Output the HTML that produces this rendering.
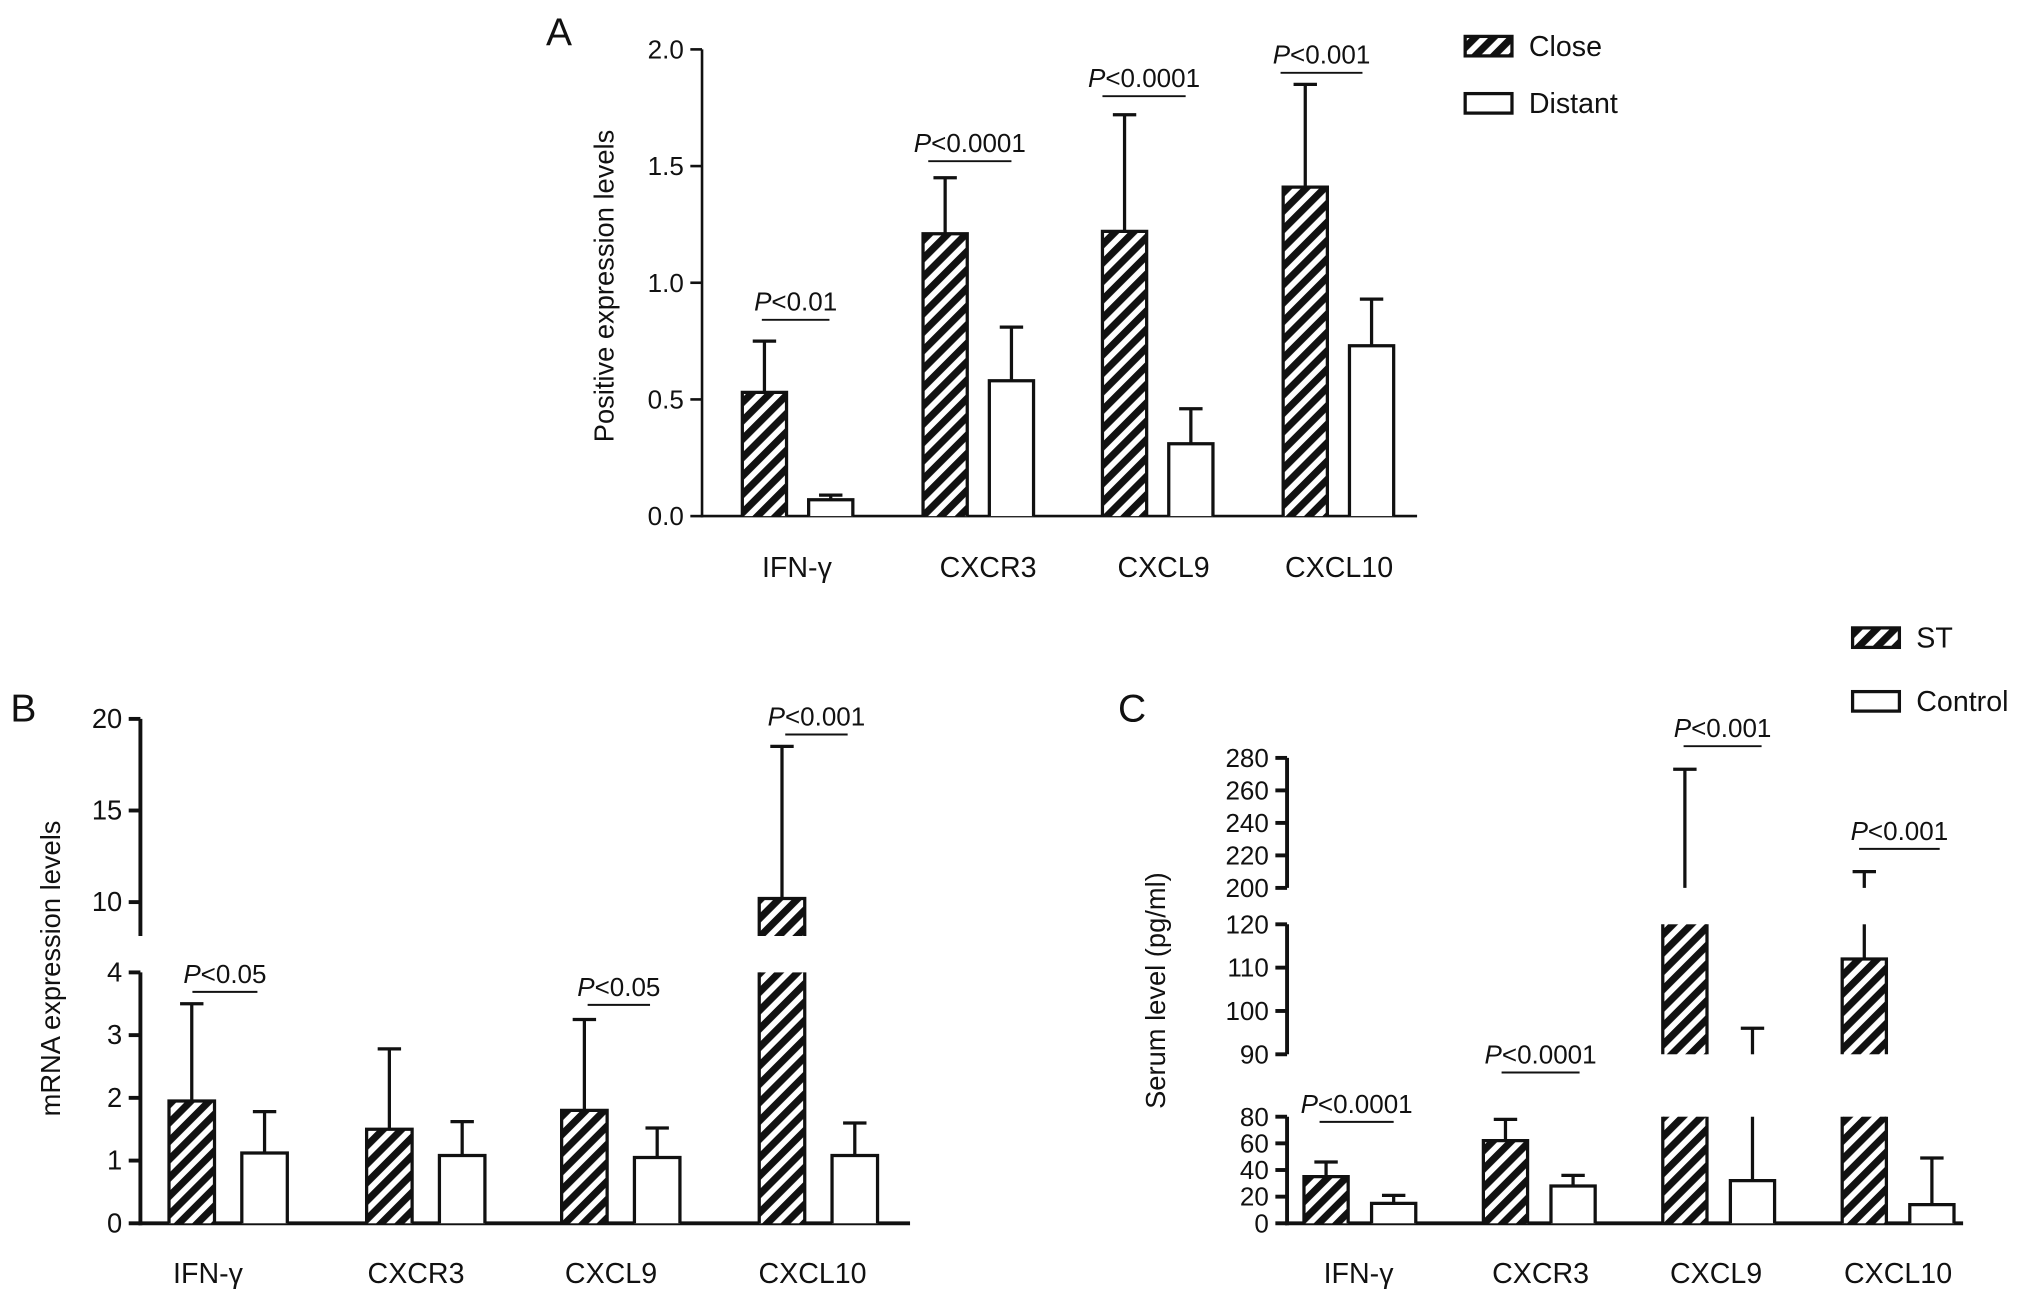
<!DOCTYPE html>
<html><head><meta charset="utf-8"><style>
html,body{margin:0;padding:0;background:#fff}
svg{display:block}
text{font-family:"Liberation Sans",sans-serif;fill:#111}
</style></head><body>
<svg id="chart" width="2032" height="1300" viewBox="0 0 1563 1000" preserveAspectRatio="none" xmlns="http://www.w3.org/2000/svg">
<defs>
<pattern id="hatch" patternUnits="userSpaceOnUse" width="10" height="10" patternTransform="rotate(45)">
<rect width="10" height="10" fill="#fff"/><rect width="5.5" height="10" fill="#111"/>
</pattern>
</defs>
<g id="root"></g>
</svg>
<script>
// Panel A data
const aCats=["IFN-γ","CXCR3","CXCL9","CXCL10"];
const aClose=[0.53,1.21,1.22,1.41];
const aCloseErr=[0.75,1.45,1.72,1.85];
const aDist=[0.07,0.58,0.31,0.73];
const aDistErr=[0.09,0.81,0.46,0.93];
const aTicks=[0,0.5,1.0,1.5,2.0];
const aP=["<0.01","<0.0001","<0.0001","<0.001"];
// Panel B data
const bCats=["IFN-γ","CXCR3","CXCL9","CXCL10"];
const bST=[1.95,1.5,1.8,10.2];
const bSTErr=[3.5,2.78,3.25,18.5];
const bCtrl=[1.12,1.08,1.05,1.08];
const bCtrlErr=[1.78,1.62,1.52,1.6];
const bTicks=[0,1,2,3,4,10,15,20];
const bP=["<0.05",null,"<0.05","<0.001"];
// Panel C data
const cCats=["IFN-γ","CXCR3","CXCL9","CXCL10"];
const cST=[35,62,130,112];
const cSTErr=[46,78,273,210];
const cCtrl=[15,28,32,14];
const cCtrlErr=[21,36,96,49];
const cTicks=[0,20,40,60,80,90,100,110,120,200,220,240,260,280];
const cP=["<0.0001","<0.0001","<0.001","<0.001"];

const NS="http://www.w3.org/2000/svg";
const root=document.getElementById('root');
function el(tag,attrs,parent,txt){const e=document.createElementNS(NS,tag);for(const k in attrs)e.setAttribute(k,attrs[k]);if(txt!==undefined)e.textContent=txt;(parent||root).appendChild(e);return e;}

function mkScale(segs){
  return function(v){for(const s of segs){if(v>=s.d0-1e-9&&v<=s.d1+1e-9)return s.p0+(v-s.d0)/(s.d1-s.d0)*(s.p1-s.p0);}return null;};
}
function spans(segs,a,b){const out=[];for(const s of segs){const lo=Math.max(a,s.d0),hi=Math.min(b,s.d1);if(hi>lo){const y0=s.p0+(lo-s.d0)/(s.d1-s.d0)*(s.p1-s.p0);const y1=s.p0+(hi-s.d0)/(s.d1-s.d0)*(s.p1-s.p0);out.push([y1,y0,hi>=b-1e-9]);}}return out;}

function panel(o){
  const g=el('g',{});
  
  
  const segs=o.segs, y=mkScale(segs), sw=o.sw;
  for(const s of segs){const a=el('line',{x1:o.x0,x2:o.x0,y1:s.p0+(s===segs[0]?sw/2:0),y2:s.p1,stroke:'#111','stroke-width':sw},g);
    
    }
  const xa=el('line',{x1:o.x0-sw/2,x2:o.x1,y1:segs[0].p0,y2:segs[0].p0,stroke:'#111','stroke-width':sw},g);
  
  
  o.ticks.forEach(t=>{const py=y(t);
    el('line',{x1:o.x0-9,x2:o.x0,y1:py,y2:py,stroke:'#111','stroke-width':sw},g);
    const tl=el('text',{x:o.x0-14,y:py+7,'text-anchor':'end','font-size':o.tfs},g,o.fmt(t));
    
    });
  o.cats.forEach((c,i)=>{
    const xs=[o.barX[i],o.barX[i]+o.gap];
    [[o.s1[0],o.s1[1],'url(#hatch)'],[o.s2[0],o.s2[1],'#fff']].forEach((ser,j)=>{
      const v=ser[0][i],e=ser[1][i],bx=xs[j];
      spans(segs,0,v).forEach(sp=>{
        const r=el('rect',{x:bx,y:sp[0],width:o.bw,height:sp[1]-sp[0],fill:ser[2],stroke:'none'},g);
        
        
        const pts=sp[2]?`${bx},${sp[1]} ${bx},${sp[0]} ${bx+o.bw},${sp[0]} ${bx+o.bw},${sp[1]}`:null;
        if(pts) el('polyline',{points:pts,fill:'none',stroke:'#111','stroke-width':2.5},g);
        else {el('line',{x1:bx,x2:bx,y1:sp[0],y2:sp[1],stroke:'#111','stroke-width':2.5},g);
              el('line',{x1:bx+o.bw,x2:bx+o.bw,y1:sp[0],y2:sp[1],stroke:'#111','stroke-width':2.5},g);}
      });
      const cx=bx+o.bw/2;
      spans(segs,v,e).forEach(sp=>{el('line',{x1:cx,x2:cx,y1:sp[0],y2:sp[1],stroke:'#111','stroke-width':2.5},g);});
      const ye=y(e);
      if(ye!==null){const cap=el('line',{x1:cx-9,x2:cx+9,y1:ye,y2:ye,stroke:'#111','stroke-width':2.5},g);
      
      }
    });
    const xl=el('text',{x:o.labX[i],y:o.labY,'text-anchor':'middle','font-size':22},g,c);
    
    
    if(o.p[i]){const L=o.pl[i];
      el('line',{x1:L[0],x2:L[1],y1:L[2],y2:L[2],stroke:'#111','stroke-width':1.5},g);
      const pt=el('text',{x:(L[0]+L[1])/2,y:L[2]-7,'text-anchor':'middle','font-size':20},g);
      
      
      el('tspan',{'font-style':'italic'},pt,'P');el('tspan',{},pt,o.p[i]);}
  });
  const yl=el('text',{x:0,y:0,'text-anchor':'middle','font-size':21,transform:`translate(${o.ylx},${o.yly}) rotate(-90)`},g,o.ylabel);
  
  
  const pl=el('text',{x:o.letter[0],y:o.letter[1],'font-size':30},g,o.letter[2]);
  
  
}

panel({name:'panel-a',x0:540,x1:1090,sw:2,tfs:20,segs:[{d0:0,d1:2,p0:397,p1:38}],ticks:aTicks,fmt:t=>t.toFixed(1),
  cats:aCats,s1:[aClose,aCloseErr],s2:[aDist,aDistErr],barX:[571,710,848,987],gap:51,bw:34,
  labX:[613,760,895,1030],labY:444,p:aP,pl:[[586,638,246],[714,778,124],[848,912,74],[985,1048,56]],
  ylabel:'Positive expression levels',ylx:472,yly:220,letter:[420,35,'A']});
panel({name:'panel-b',x0:108,x1:700,sw:3,tfs:21,segs:[{d0:0,d1:4,p0:941,p1:748},{d0:8.15,d1:20,p0:720,p1:553}],ticks:bTicks,fmt:t=>String(t),
  cats:bCats,s1:[bST,bSTErr],s2:[bCtrl,bCtrlErr],barX:[130,282,432,584],gap:56,bw:35,
  labX:[160,320,470,625],labY:987,p:bP,pl:[[148,198,763],null,[452,500,773],[604,652,565]],
  ylabel:'mRNA expression levels',ylx:46,yly:745,letter:[8,555,'B']});
panel({name:'panel-c',x0:990,x1:1510,sw:3,tfs:20,segs:[{d0:0,d1:80,p0:941,p1:859},{d0:90,d1:120,p0:811,p1:711},{d0:200,d1:280,p0:683,p1:583}],ticks:cTicks,fmt:t=>String(t),
  cats:cCats,s1:[cST,cSTErr],s2:[cCtrl,cCtrlErr],barX:[1003,1141,1279,1417],gap:52,bw:34,
  labX:[1045,1185,1320,1460],labY:987,p:cP,pl:[[1015,1072,863],[1155,1215,825],[1295,1355,574],[1430,1492,653]],
  ylabel:'Serum level (pg/ml)',ylx:896,yly:762,letter:[860,555,'C']});

function legend(x,y,label,fill,name){
  const g=el('g',{});
  
  
  el('rect',{x:x,y:y,width:36,height:15,fill:fill,stroke:'#111','stroke-width':2.5},g);
  el('text',{x:x+49,y:y+15,'font-size':22},g,label);
}
legend(1127,28,'Close','url(#hatch)','legend-entry-close');
legend(1127,72,'Distant','#fff','legend-entry-distant');
legend(1425,483,'ST','url(#hatch)','legend-entry-st');
legend(1425,532,'Control','#fff','legend-entry-control');
</script>
</body></html>
